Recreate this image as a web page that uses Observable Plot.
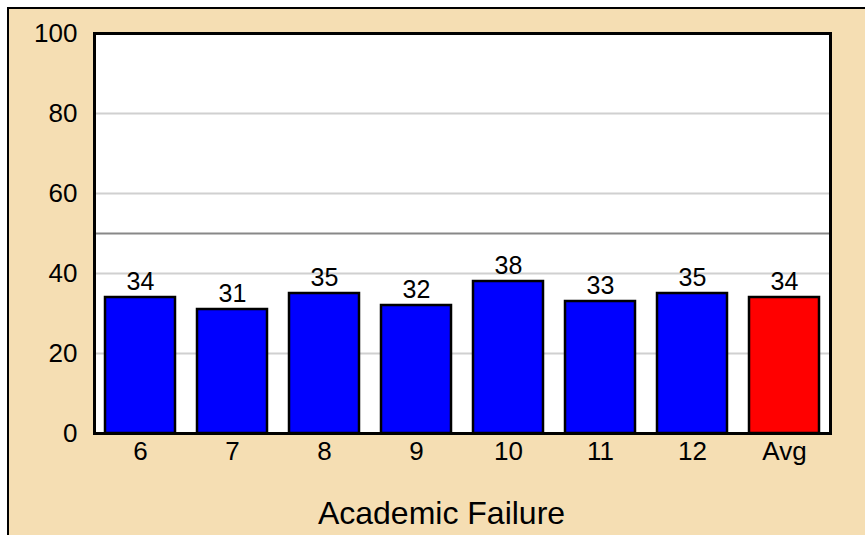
<!DOCTYPE html>
<html>
<head>
<meta charset="utf-8">
<script src="https://cdn.jsdelivr.net/npm/d3@7"></script>
<script src="https://cdn.jsdelivr.net/npm/@observablehq/plot@0.6"></script>
<style>
  html, body { margin: 0; padding: 0; background: #ffffff; overflow: hidden; }
  #bg { position: absolute; left: 7px; top: 7px; width: 900px; height: 600px;
        border: 2px solid #000; background: #F5DEB3; }
  #chart { position: absolute; left: 0; top: 0; }
  #chart svg { background: transparent; }
</style>
</head>
<body>
<div id="bg"></div>
<div id="chart"></div>
<script>
const grades = ["6", "7", "8", "9", "10", "11", "12", "Avg"];
const values = [34, 31, 35, 32, 38, 33, 35, 34];
const barColors = ["blue", "blue", "blue", "blue", "blue", "blue", "blue", "red"];
const yTicks = [0, 20, 40, 60, 80, 100];
const gridValues = [20, 40, 60, 80];
const refValue = [50];
const axisTitle = "Academic Failure";

const data = grades.map((g, i) => ({grade: g, value: values[i], color: barColors[i]}));

const chart = Plot.plot({
  width: 865,
  height: 535,
  marginLeft: 94,
  marginRight: 35,
  marginTop: 33,
  marginBottom: 102,
  style: {fontFamily: "Liberation Sans, Arial, sans-serif", background: "transparent", color: "#000"},
  x: {domain: grades, paddingInner: 0.24, paddingOuter: 0.12, label: null},
  y: {domain: [0, 100], label: null},
  marks: [
    Plot.frame({fill: "white", stroke: null}),
    Plot.ruleY(gridValues, {stroke: "#d0d0d0", strokeWidth: 2}),
    Plot.ruleY(refValue, {stroke: "#888888", strokeWidth: 2}),
    Plot.barY(data, {x: "grade", y: "value", fill: "color", stroke: "black", strokeWidth: 2.5}),
    Plot.text(data, {x: "grade", y: "value", text: d => String(d.value), lineAnchor: "bottom", dy: -8, fontSize: 25, fill: "black"}),
    Plot.frame({stroke: "black", strokeWidth: 3}),
    Plot.axisY({ticks: yTicks, tickSize: 0, tickPadding: 17, fontSize: 26, label: null}),
    Plot.axisX({tickSize: 0, tickPadding: 8, fontSize: 26, label: null}),
    Plot.text([axisTitle], {frameAnchor: "bottom", text: d => d, lineAnchor: "middle", dy: 80, dx: -21, fontSize: 32, fill: "black"})
  ]
});
document.getElementById("chart").appendChild(chart);
</script>
</body>
</html>
